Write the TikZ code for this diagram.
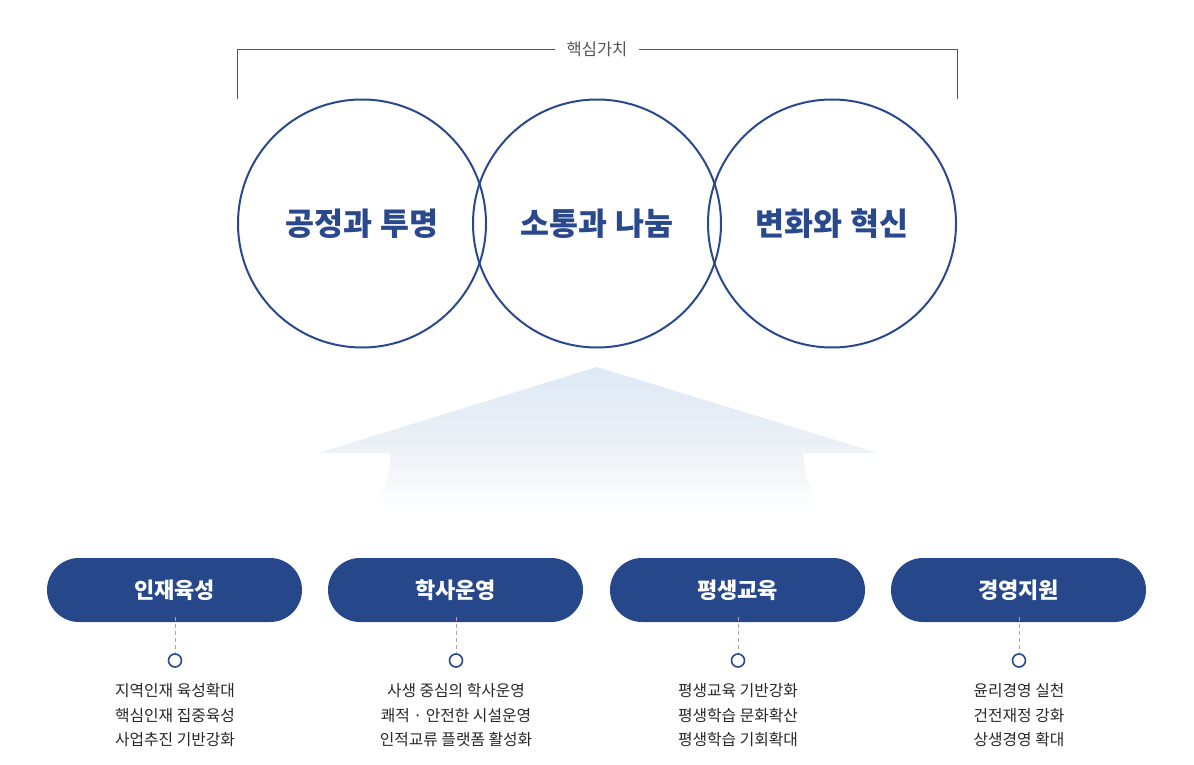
\documentclass[tikz,border=0pt]{standalone}
\usepackage{fontspec}
\newfontfamily\kr{Noto Sans CJK KR}
\usetikzlibrary{shapes.misc}
\definecolor{navy}{RGB}{38,72,138}
\definecolor{ringc}{RGB}{42,72,140}
\definecolor{greyt}{RGB}{85,85,85}
\definecolor{bodyt}{RGB}{40,40,40}
\definecolor{arrowtop}{RGB}{222,234,247}
\tikzset{
  ring/.style={circle,draw=ringc,line width=2pt,minimum size=248pt,inner sep=0pt},
  ringtext/.style={font=\kr\bfseries\fontsize{31.5}{34}\selectfont,text=ringc},
  pill/.style={rounded rectangle,fill=navy,minimum width=255pt,minimum height=64pt,inner sep=0pt,font=\kr\bfseries\fontsize{22}{26}\selectfont,text=white},
  dot/.style={circle,draw=ringc,fill=white,line width=1.6pt,minimum size=13pt,inner sep=0pt},
  dashline/.style={draw=gray!70,line width=0.9pt,dash pattern=on 4pt off 3pt},
  items/.style={align=center,font=\kr\fontsize{15.8}{24.5}\selectfont,text=bodyt,anchor=north},
  bracketline/.style={draw=greyt,line width=0.9pt}
}
\begin{document}
\begin{tikzpicture}[x=1pt,y=-1pt]
\useasboundingbox (0,0) rectangle (1194,765);
% bracket
\node[font=\kr\fontsize{16.5}{18}\selectfont,text=greyt,inner sep=0pt] (cv) at (597,49) {핵심가치};
\coordinate (bl) at (237,99);
\coordinate (br) at (957,99);
\coordinate (hl) at (555,49);
\coordinate (hr) at (639,49);
\draw[bracketline] (bl) |- (hl);
\draw[bracketline] (br) |- (hr);
% arrow
\shade[top color=arrowtop,bottom color=white,middle color={rgb,255:red,234;green,239;blue,245},shading angle=0]
  (597,367) -- (878,453) -- (803,453) .. controls (805,480) and (812,495) .. (822,510)
  -- (372,510) .. controls (382,495) and (389,480) .. (391,453) -- (318,453) -- cycle;
% circles
\node[ring] (c1) at (362,223.5) {};
\node[ring] (c2) at (597,223.5) {};
\node[ring] (c3) at (832,223.5) {};
\node[ringtext] at (c1) {공정과 투명};
\node[ringtext] at (c2) {소통과 나눔};
\node[ringtext] at (c3) {변화와 혁신};
% pills
\node[pill] (p1) at (174.5,590) {인재육성};
\node[pill] (p2) at (455.5,590) {학사운영};
\node[pill] (p3) at (737.5,590) {평생교육};
\node[pill] (p4) at (1018.5,590) {경영지원};
% dots
\node[dot] (d1) at (175,660.5) {};
\node[dot] (d2) at (456,660.5) {};
\node[dot] (d3) at (738,660.5) {};
\node[dot] (d4) at (1019,660.5) {};
\foreach \i in {1,2,3,4}{
  \draw[dashline] ([yshift=5pt]p\i.south -| d\i) -- (d\i.north);
}
% items
\node[items] (t1) at (175,680) {지역인재 육성확대\\핵심인재 집중육성\\사업추진 기반강화};
\node[items] (t2) at (456,680) {사생 중심의 학사운영\\쾌적 · 안전한 시설운영\\인적교류 플랫폼 활성화};
\node[items] (t3) at (738,680) {평생교육 기반강화\\평생학습 문화확산\\평생학습 기회확대};
\node[items] (t4) at (1019,680) {윤리경영 실천\\건전재정 강화\\상생경영 확대};
\end{tikzpicture}
\end{document}
